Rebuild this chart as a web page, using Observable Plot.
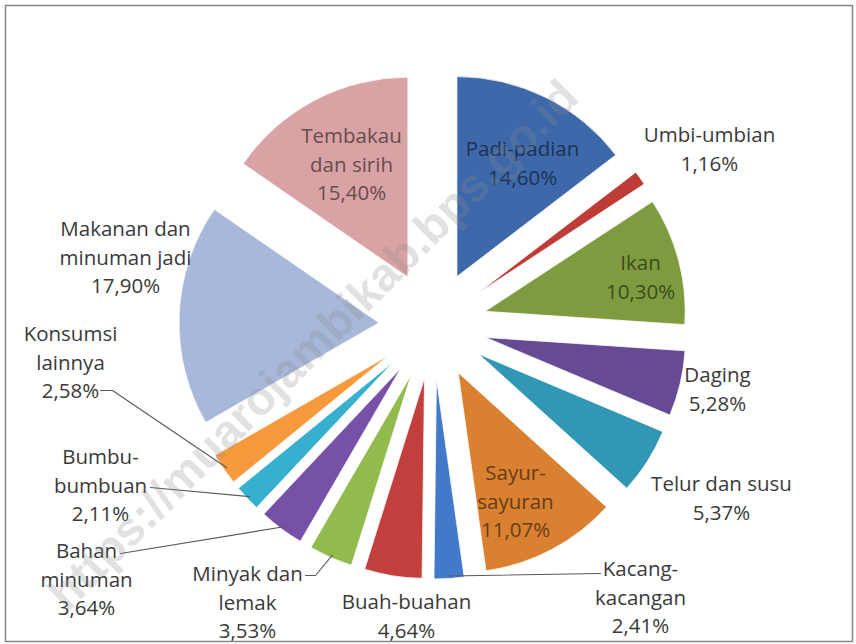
<!DOCTYPE html>
<html>
<head>
<meta charset="utf-8">
<script src="https://cdn.jsdelivr.net/npm/d3@7"></script>
<script src="https://cdn.jsdelivr.net/npm/@observablehq/plot@0.6"></script>
<style>
  html, body { margin: 0; padding: 0; background: #fff; }
  #chart { width: 856px; height: 644px; }
</style>
</head>
<body>
<div id="chart"></div>
<script>
// ---- data ----
const categories = [
  "Padi-padian", "Umbi-umbian", "Ikan", "Daging", "Telur dan susu",
  "Sayur-sayuran", "Kacang-kacangan", "Buah-buahan", "Minyak dan lemak",
  "Bahan minuman", "Bumbu-bumbuan", "Konsumsi lainnya",
  "Makanan dan minuman jadi", "Tembakau dan sirih"
];
const shares = [14.60, 1.16, 10.30, 5.28, 5.37, 11.07, 2.41, 4.64, 3.53, 3.64, 2.11, 2.58, 17.90, 15.40];
const labelNames = [
  "Padi-padian", "Umbi-umbian", "Ikan", "Daging", "Telur dan susu",
  "Sayur-\nsayuran", "Kacang-\nkacangan", "Buah-buahan", "Minyak dan\nlemak",
  "Bahan\nminuman", "Bumbu-\nbumbuan", "Konsumsi\nlainnya",
  "Makanan dan\nminuman jadi", "Tembakau\ndan sirih"
];
const palette = [
  "#3d69ab", "#be3b36", "#7e9c3f", "#664a94", "#3297b4",
  "#d98031", "#4279c8", "#c33f3d", "#92bb4e", "#7750a8",
  "#37afcf", "#f79a3e", "#a7b8da", "#d9a2a4"
];
const watermarkText = "https://muarojambikab.bps.go.id";

// ---- layout (chart units = px, origin at pie centre, y downward) ----
const R = 200, EXPLODE = 54;
const insideLabels = new Set(["Padi-padian", "Ikan", "Sayur-sayuran", "Tembakau dan sirih"]);
const labelOffsets = [
  [89, -164], [276, -178], [207, -50], [284, 62], [288, 171],
  [82, 174], [207, 270], [-27, 289], [-186, 275],
  [-347, 252], [-333, 158], [-363, 35], [-308, -70], [-82, -163]
];
const leaderStarts = {
  "Konsumsi lainnya": [[-333, 65], [-321, 65]],
  "Bumbu-bumbuan": [[-283, 162]],
  "Bahan minuman": [[-313, 228]],
  "Minyak dan lemak": [[-128, 250], [-118, 250]],
  "Kacang-kacangan": [[167, 248]]
};

// ---- derived ----
const fmt = v => v.toFixed(2).replace(".", ",") + "%";
const rows = categories.map((c, i) => ({name: c, share: shares[i], label: labelNames[i] + "\n" + fmt(shares[i])}));
const arcs = d3.pie().sort(null).value(d => d.share).startAngle(0).endAngle(2 * Math.PI)(rows);
arcs.forEach(a => { a.mid = (a.startAngle + a.endAngle) / 2; });
const color = Plot.scale({color: {type: "ordinal", domain: categories, range: palette}});

const labelRows = rows.map((r, i) => ({
  ...r,
  x: labelOffsets[i][0],
  y: labelOffsets[i][1],
  fill: insideLabels.has(r.name) ? d3.color(color.apply(r.name)).darker(2.1).formatHex() : "#3a3a3a"
}));

const leaderPts = [];
for (const a of arcs) {
  const start = leaderStarts[a.data.name];
  if (!start) continue;
  for (const [x, y] of start) leaderPts.push({name: a.data.name, x, y});
  const rr = EXPLODE + R - 3;
  leaderPts.push({name: a.data.name, x: rr * Math.sin(a.mid), y: -rr * Math.cos(a.mid)});
}

function slicesMark(index, scales, values, dimensions, context) {
  const g = d3.create("svg:g");
  const k = scales.x(1) - scales.x(0);
  const arc = d3.arc().innerRadius(0).outerRadius(R * k);
  for (const a of arcs) {
    const cx = scales.x(EXPLODE * Math.sin(a.mid));
    const cy = scales.y(-EXPLODE * Math.cos(a.mid));
    g.append("path")
      .attr("d", arc(a))
      .attr("transform", `translate(${cx},${cy})`)
      .attr("fill", color.apply(a.data.name))
      .attr("stroke", "#ffffff")
      .attr("stroke-width", 0.75);
  }
  return g.node();
}

const chart = Plot.plot({
  width: 856,
  height: 644,
  margin: 0,
  x: {domain: [-433, 423], axis: null},
  y: {domain: [-325, 319], axis: null, reverse: true},
  color: {type: "identity"},
  style: {fontFamily: "'Open Sans', sans-serif", background: "#ffffff"},
  marks: [
    slicesMark,
    Plot.line(leaderPts, {x: "x", y: "y", z: "name", stroke: "#5a5a5a", strokeWidth: 1.1}),
    Plot.text(labelRows, {
      x: "x", y: "y", text: "label", fill: "fill",
      fontSize: 20.5, lineHeight: 1.37, textAnchor: "middle"
    }),
    Plot.text([watermarkText], {
      x: () => -120, y: () => 20, text: d => d, rotate: -45,
      fontSize: 47, fontWeight: "bold", fontFamily: "'Liberation Sans', Arial, sans-serif",
      fill: "#8a8a8a", fillOpacity: 0.26
    }),
    Plot.frame({stroke: "#868686", strokeWidth: 1.5, insetTop: 5, insetLeft: 5, insetRight: 4, insetBottom: 3})
  ]
});
document.getElementById("chart").appendChild(chart);
</script>
</body>
</html>
